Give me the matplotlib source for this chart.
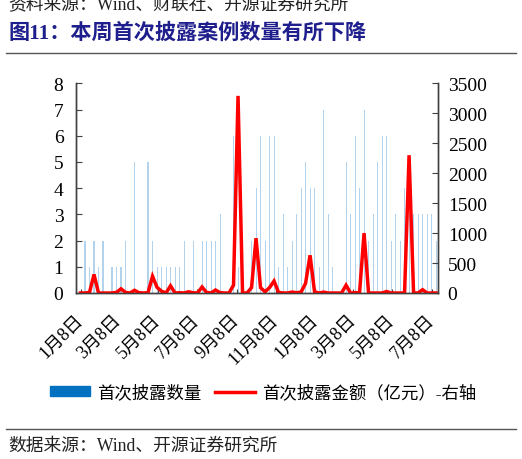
import numpy as np
import pandas as pd
import matplotlib
matplotlib.use("Agg")
import matplotlib.pyplot as plt
import matplotlib.dates as mdates
from matplotlib.patches import Patch
from matplotlib.lines import Line2D

plt.rcParams['font.family'] = ['Liberation Serif', 'Noto Sans CJK SC', 'DejaVu Sans']

# 每周数据，2022-01-08 起
weeks = pd.date_range('2022-01-08', periods=80, freq='7D')

# 首次披露数量（左轴）
counts = [0, 2, 1, 2, 1, 2, 0, 1, 1, 1,
          2, 0, 5, 0, 0, 5, 2, 1, 1, 1,
          1, 1, 1, 2, 0, 2, 0, 2, 2, 2,
          2, 3, 0, 0, 6, 1, 0, 0, 2, 4,
          6, 2, 6, 6, 1, 3, 1, 2, 3, 4,
          5, 4, 4, 1, 7, 3, 1, 0, 0, 5,
          3, 6, 4, 7, 2, 3, 5, 6, 6, 2,
          3, 2, 4, 3, 3, 3, 3, 3, 3, 2]

# 首次披露金额（亿元，右轴）
amounts = [0, 0, 10, 310, 0, 0, 0, 0, 10, 70,
           10, 0, 45, 5, 0, 5, 280, 95, 30, 0,
           120, 0, 5, 0, 20, 5, 0, 100, 10, 0,
           50, 5, 0, 0, 130, 3290, 0, 0, 90, 915,
           90, 20, 90, 200, 10, 0, 0, 15, 5, 15,
           160, 630, 20, 0, 15, 0, 0, 0, 0, 130,
           0, 5, 5, 1000, 0, 0, 0, 0, 25, 0,
           0, 0, 0, 2300, 0, 0, 55, 0, 0, 0]

left_ticks = list(range(0, 9))
right_ticks = list(range(0, 3501, 500))

title = '图11：本周首次披露案例数量有所下降'
top_note = '资料来源：Wind、财联社、开源证券研究所'
source = '数据来源：Wind、开源证券研究所'
label_cnt = '首次披露数量'
label_amt = '首次披露金额（亿元）-右轴'

W, H = 522, 460
fig = plt.figure(figsize=(W / 100, H / 100), dpi=100)
ax = fig.add_axes([76 / W, 1 - 294 / H, (438 - 76) / W, (294 - 84.3) / H])
ax2 = ax.twinx()

ax.bar(weeks, counts, width=1.6, color='#0070C0', alpha=0.3, linewidth=0)
ax2.plot(weeks, amounts, color='#FF0000', lw=2.5, solid_joinstyle='miter')

ax.set_ylim(0, 8)
ax.set_yticks(left_ticks)
ax2.set_ylim(0, 3500)
ax2.set_yticks(right_ticks)
ax.set_xlim(pd.Timestamp('2022-01-01'), pd.Timestamp('2023-07-18'))

ax.xaxis.set_major_locator(mdates.MonthLocator(bymonth=[1, 3, 5, 7, 9, 11], bymonthday=8))
ax.xaxis.set_major_formatter(plt.FuncFormatter(
    lambda v, pos: '{}月{}日'.format(mdates.num2date(v).month, mdates.num2date(v).day)))

spine_c = '#404040'
for a in (ax, ax2):
    a.spines['top'].set_visible(False)
    for s in ('left', 'right', 'bottom'):
        a.spines[s].set_color(spine_c)
        a.spines[s].set_linewidth(1.0)
ax.tick_params(axis='y', direction='in', length=4, color=spine_c, labelsize=14, pad=9)
ax2.tick_params(axis='y', direction='in', length=4, color=spine_c, labelsize=14, pad=7)
ax.tick_params(axis='x', direction='in', length=3, color=spine_c, labelsize=13, pad=17)
for lab in ax.get_xticklabels():
    lab.set_rotation(45)
    lab.set_ha('right')
    lab.set_va('center')
    lab.set_rotation_mode('anchor')

# 文字
fig.text(8 / W, 1 - 6 / H, top_note, fontsize=12.8, va='center', ha='left', color='#222222')
fig.text(8 / W, 1 - 34 / H, title, fontsize=15.2, fontweight='bold', va='center', ha='left',
         color='#1E1E8C')
fig.add_artist(Line2D([6 / W, 516 / W], [1 - 54 / H] * 2, color='#555555', lw=1))
fig.add_artist(Line2D([6 / W, 516 / W], [1 - 430 / H] * 2, color='#555555', lw=1))
fig.text(8 / W, 1 - 446 / H, source, fontsize=12.8, va='center', ha='left', color='#222222')

handles = [Patch(facecolor='#0070C0', edgecolor='#0070C0', label=label_cnt),
           Line2D([0], [0], color='#FF0000', lw=2.5, label=label_amt)]
fig.legend(handles=handles, loc='center', bbox_to_anchor=(263 / W, 1 - 394 / H), ncol=2,
           frameon=False, fontsize=12.5, handlelength=2.3, handleheight=0.5,
           handletextpad=0.4, columnspacing=0.8)

fig.savefig('out.png', dpi=100)
